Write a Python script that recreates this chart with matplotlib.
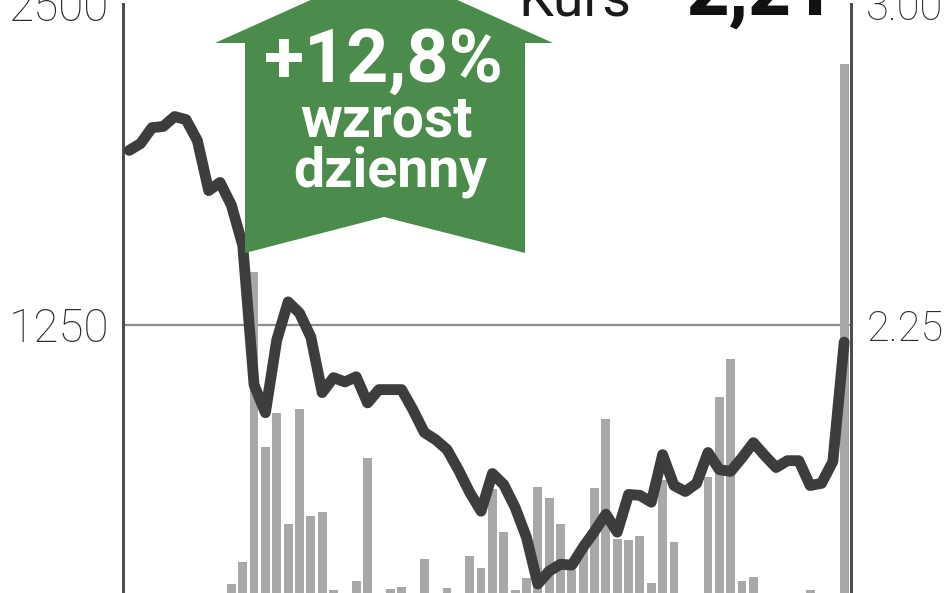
import matplotlib
matplotlib.use("Agg")
import matplotlib.pyplot as plt
import numpy as np
from matplotlib.patches import Polygon

plt.rcParams['font.family'] = ['Roboto', 'DejaVu Sans']

# daily turnover (left axis) and share price (right axis), one value per session
volume = [150, 120, 100, 130, 90, 110, 140, 180, 150,
          240, 326, 1456, 776, 908, 477, 924, 505, 520, 217,
          120, 252, 734, 100, 221, 229, 150, 338, 130, 225,
          100, 350, 303, 610, 443, 217, 264, 621, 578, 474,
          295, 377, 617, 885, 415, 411, 427, 245, 648, 404,
          150, 120, 660, 970, 1118, 252, 268, 120, 100, 130,
          110, 217, 150, 140, 2267]
price = [2.658, 2.674, 2.711, 2.714, 2.737, 2.730, 2.681, 2.564, 2.583,
         2.530, 2.436, 2.110, 2.045, 2.215, 2.304, 2.278, 2.222, 2.092,
         2.127, 2.117, 2.129, 2.068, 2.099, 2.099, 2.099, 2.052, 1.999,
         1.982, 1.959, 1.912, 1.859, 1.815, 1.903, 1.877, 1.824, 1.754,
         1.645, 1.675, 1.691, 1.689, 1.731, 1.768, 1.808, 1.766, 1.854,
         1.852, 1.836, 1.947, 1.875, 1.861, 1.880, 1.952, 1.912, 1.908,
         1.940, 1.975, 1.945, 1.917, 1.933, 1.933, 1.875, 1.880, 1.931,
         2.21]
vol_ticks = [1250, 2500]
price_ticks = [2.25, 3.00]
price_labels = ['2.25', '3.00']
change_txt = '+12,8%'
last_txt = '2,21'

W, H = 948, 593


def px(x, y):
    return (x / W, 1 - y / H)


fig = plt.figure(figsize=(W / 100, H / 100), dpi=100)
fig.patch.set_facecolor('white')
ax = fig.add_axes([123 / W, 1 - 646 / H, (851 - 123) / W, 642 / H])
ax2 = ax.twinx()

x = np.arange(len(volume))
ax.bar(x, volume, width=0.78, color='#a8a8a8', zorder=2)
ax.axhline(1250, color='#8c8c8c', lw=1.6, zorder=1)
ax.set_ylim(0, 2500)
ax.set_xlim(-0.55, 63.6)
ax.set_yticks(vol_ticks)
ax.set_yticklabels([str(v) for v in vol_ticks])
ax.set_xticks([])

ax2.plot(x, price, color='#3d3d3d', lw=7.8, solid_joinstyle='round',
         solid_capstyle='round', zorder=5)
ax2.set_ylim(1.5, 3.0)
ax2.set_yticks(price_ticks)
ax2.set_yticklabels(price_labels)

for a, size, pad in ((ax, 33, 10), (ax2, 30, 11)):
    for s in ('top', 'bottom'):
        a.spines[s].set_visible(False)
    for s in ('left', 'right'):
        a.spines[s].set_color('#4d4d4d')
        a.spines[s].set_linewidth(2.0)
    a.tick_params(axis='y', length=0, labelsize=size, labelcolor='#2b2b2b', pad=pad)
    for t in a.get_yticklabels():
        t.set_fontweight('light')

# green up arrow
arrow = [px(245, 253), px(245, 43), px(215, 43), px(384, -33), px(553, 43),
         px(525, 43), px(525, 253), px(384, 217)]
fig.patches.append(Polygon(arrow, closed=True, transform=fig.transFigure,
                           facecolor='#4b8b4b', edgecolor='none', zorder=3))
ax.set_zorder(1)
ax2.set_zorder(2)
ax.patch.set_visible(False)
ax2.patch.set_visible(False)

fig.text(*px(383, 82), change_txt, color='white', fontsize=53, fontweight='bold',
         ha='center', va='baseline', zorder=6)
fig.text(*px(386, 137), 'wzrost', color='white', fontsize=41, fontweight='bold',
         ha='center', va='baseline', zorder=6)
fig.text(*px(390, 187), 'dzienny', color='white', fontsize=40, fontweight='bold',
         ha='center', va='baseline', zorder=6)

fig.text(*px(518, 15), 'Kurs', color='#1a1a1a', fontsize=40,
         ha='left', va='baseline')
fig.text(*px(835, 15), last_txt, color='#111111', fontsize=53, fontweight='black',
         ha='right', va='baseline')

fig.savefig('out.png', dpi=100, facecolor='white')
